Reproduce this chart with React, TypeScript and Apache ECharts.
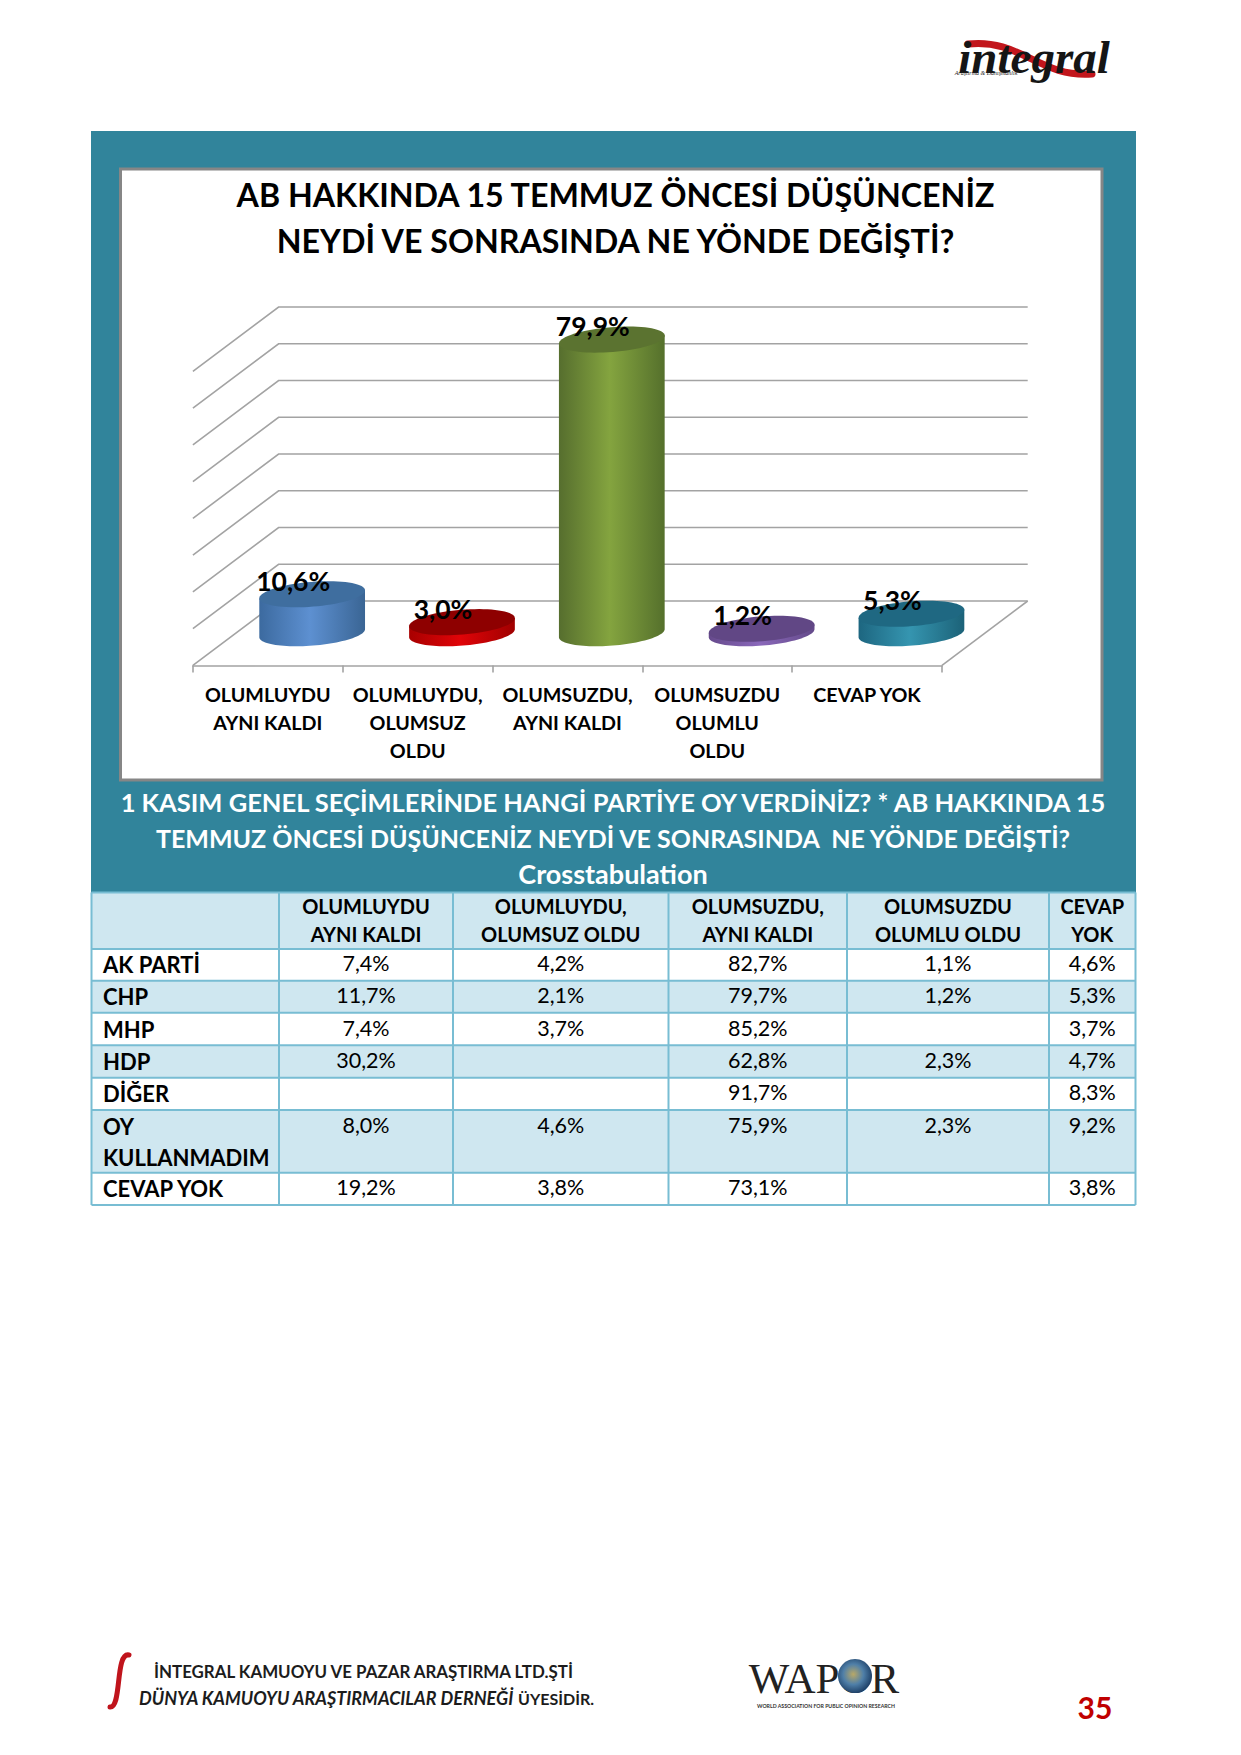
import React, { useEffect, useRef } from "react";
import * as echarts from "echarts";

// ---------- chart data ----------
const categories = [
  "OLUMLUYDU\nAYNI KALDI",
  "OLUMLUYDU,\nOLUMSUZ\nOLDU",
  "OLUMSUZDU,\nAYNI KALDI",
  "OLUMSUZDU\nOLUMLU\nOLDU",
  "CEVAP YOK",
];
const values = [10.6, 3.0, 79.9, 1.2, 5.3];
const gridTicks = [0, 10, 20, 30, 40, 50, 60, 70, 80];
const chartTitle = "AB HAKKINDA 15 TEMMUZ ÖNCESİ DÜŞÜNCENİZ\nNEYDİ VE SONRASINDA NE YÖNDE DEĞİŞTİ?";

// ---------- table data ----------
const tableTitle = [
  "1 KASIM GENEL SEÇİMLERİNDE HANGİ PARTİYE OY VERDİNİZ? * AB HAKKINDA 15",
  "TEMMUZ ÖNCESİ DÜŞÜNCENİZ NEYDİ VE SONRASINDA  NE YÖNDE DEĞİŞTİ?",
  "Crosstabulation",
];
const tableHeaders = [
  "",
  "OLUMLUYDU\nAYNI KALDI",
  "OLUMLUYDU,\nOLUMSUZ OLDU",
  "OLUMSUZDU,\nAYNI KALDI",
  "OLUMSUZDU\nOLUMLU OLDU",
  "CEVAP\nYOK",
];
const rowAkParti = ["AK PARTİ", "7,4%", "4,2%", "82,7%", "1,1%", "4,6%"];
const rowChp = ["CHP", "11,7%", "2,1%", "79,7%", "1,2%", "5,3%"];
const rowMhp = ["MHP", "7,4%", "3,7%", "85,2%", "", "3,7%"];
const rowHdp = ["HDP", "30,2%", "", "62,8%", "2,3%", "4,7%"];
const rowDiger = ["DİĞER", "", "", "91,7%", "", "8,3%"];
const rowOy = ["OY\nKULLANMADIM", "8,0%", "4,6%", "75,9%", "2,3%", "9,2%"];
const rowCevap = ["CEVAP YOK", "19,2%", "3,8%", "73,1%", "", "3,8%"];
const tableRows = [rowAkParti, rowChp, rowMhp, rowHdp, rowDiger, rowOy, rowCevap];

// ---------- layout & style (not data) ----------
const FONT = "Lato, Carlito, Calibri, sans-serif";
const DEPTH_X = 85.7;
const DEPTH_Y = 64.4;
const TILT = (-4.6 * Math.PI) / 180;
const GRID_COLOR = "#a3a3a3";
const TEAL = "#31849b";
const CELL_BLUE = "#cfe7f0";
const CELL_LINE = "#78bdd3";
const colX = [91.5, 279, 453, 668.5, 847, 1049, 1135.5];
const rowY = [892.5, 949, 980.7, 1012.7, 1045.3, 1077.7, 1110, 1172.7, 1205];

const barStyles = [
  { stops: ["#3c6a9f", "#5d90d1", "#3a6594"], top: "#3f6e9f" },
  { stops: ["#a80000", "#e00408", "#a00000"], top: "#8e0000" },
  { stops: ["#566e2e", "#84a43f", "#55702c"], top: "#5b7330" },
  { stops: ["#664a8c", "#8a68ba", "#644a8a"], top: "#614785" },
  { stops: ["#1d6680", "#3595b0", "#1c6278"], top: "#1f6882" },
];

function ellipsePoint(cx: number, cy: number, rx: number, ry: number, t: number) {
  const ct = Math.cos(t) * rx;
  const st = Math.sin(t) * ry;
  return [
    cx + ct * Math.cos(TILT) - st * Math.sin(TILT),
    cy + ct * Math.sin(TILT) + st * Math.cos(TILT),
  ];
}

function renderWall(params: any, api: any) {
  const g = params.coordSys;
  const y = api.coord([0, api.value(1)])[1];
  const x0 = g.x;
  const x1 = g.x + DEPTH_X;
  const x2 = g.x + g.width + DEPTH_X;
  const style = { stroke: GRID_COLOR, fill: "none", lineWidth: 1.6 };
  const children: any[] = [
    { type: "polyline", shape: { points: [[x0, y], [x1, y - DEPTH_Y], [x2, y - DEPTH_Y]] }, style },
  ];
  if (api.value(1) === 0) {
    children.push({
      type: "line",
      shape: { x1: x2, y1: y - DEPTH_Y, x2: g.x + g.width, y2: y },
      style,
    });
  }
  return { type: "group", children };
}

function renderCylinder(params: any, api: any) {
  const idx = api.value(0);
  const v = api.value(1);
  const base = api.coord([idx, 0]);
  const tip = api.coord([idx, v]);
  const bandW = api.size([1, 0])[0];
  const rx = bandW * 0.354;
  const ry = 12.4;
  const cx = base[0] + DEPTH_X / 2 + 1.5;
  const by = base[1] - DEPTH_Y / 2;
  const ty = tip[1] - DEPTH_Y / 2;
  const st = barStyles[params.dataIndex];
  const side: number[][] = [];
  for (let i = 0; i <= 48; i++) side.push(ellipsePoint(cx, by, rx, ry, (Math.PI * i) / 48));
  const sidePts = [ellipsePoint(cx, ty, rx, ry, 0), ...side, ellipsePoint(cx, ty, rx, ry, Math.PI)];
  const top: number[][] = [];
  for (let i = 0; i < 72; i++) top.push(ellipsePoint(cx, ty, rx, ry, (Math.PI * 2 * i) / 72));
  const label = v.toFixed(1).replace(".", ",") + "%";
  return {
    type: "group",
    children: [
      {
        type: "polygon",
        shape: { points: sidePts },
        style: {
          fill: new echarts.graphic.LinearGradient(0, 0, 1, 0, [
            { offset: 0, color: st.stops[0] },
            { offset: 0.48, color: st.stops[1] },
            { offset: 1, color: st.stops[2] },
          ]),
        },
      },
      { type: "polygon", shape: { points: top }, style: { fill: st.top } },
      {
        type: "text",
        x: cx - 19,
        y: ty - 13.5,
        z2: 10,
        style: {
          text: label,
          align: "center",
          verticalAlign: "middle",
          fill: "#000",
          fontFamily: FONT,
          fontWeight: 700,
          fontSize: 26.5,
        },
      },
    ],
  };
}

function text(t: string, x: number, y: number, size: number, extra: any = {}) {
  const { weight, color, align, family, style, lineHeight, ...rest } = extra;
  return {
    type: "text",
    x,
    y,
    z: 3,
    ...rest,
    style: {
      text: t,
      align: align ?? "center",
      verticalAlign: "middle",
      fill: color ?? "#000",
      fontFamily: family ?? FONT,
      fontWeight: weight ?? 400,
      fontStyle: style ?? "normal",
      fontSize: size,
      lineHeight,
    },
  };
}

function buildGraphics() {
  const out: any[] = [
    { type: "rect", z: -3, shape: { x: 91, y: 131, width: 1045, height: 762 }, style: { fill: TEAL } },
    {
      type: "rect",
      z: -2,
      shape: { x: 120.5, y: 169, width: 981.5, height: 611 },
      style: { fill: "#fff", stroke: "#868686", lineWidth: 3 },
    },
  ];
  // table title
  const titleY = [802, 838, 873];
  const titleSize = [25.5, 25, 27];
  tableTitle.forEach((t, i) => out.push(text(t, 613, titleY[i], titleSize[i], { weight: 700, color: "#fff" })));
  // table cells
  const nRows = rowY.length - 1;
  for (let r = 0; r < nRows; r++) {
    const blue = r % 2 === 0;
    out.push({
      type: "rect",
      z: -1,
      shape: { x: colX[0], y: rowY[r], width: colX[6] - colX[0], height: rowY[r + 1] - rowY[r] },
      style: { fill: blue ? CELL_BLUE : "#fff" },
    });
  }
  rowY.forEach((y) =>
    out.push({
      type: "line",
      z: 1,
      shape: { x1: colX[0], y1: y, x2: colX[6], y2: y },
      style: { stroke: CELL_LINE, lineWidth: 2 },
    })
  );
  colX.forEach((x) =>
    out.push({
      type: "line",
      z: 1,
      shape: { x1: x, y1: rowY[0], x2: x, y2: rowY[rowY.length - 1] },
      style: { stroke: CELL_LINE, lineWidth: 2 },
    })
  );
  tableHeaders.forEach((h, c) => {
    if (!h) return;
    const cx = (colX[c] + colX[c + 1]) / 2;
    h.split("\n").forEach((line, i) =>
      out.push(text(line, cx, 906 + i * 28, 20, { weight: 700 }))
    );
  });
  tableRows.forEach((row, r) => {
    const twoLine = row[0].includes("\n");
    const dataY = twoLine ? 1125 : (rowY[r + 1] + rowY[r + 2]) / 2 - 1.5;
    const labelY = twoLine ? 1126 : (rowY[r + 1] + rowY[r + 2]) / 2;
    row.forEach((cell, c) => {
      if (!cell) return;
      if (c === 0) {
        cell.split("\n").forEach((line, i) =>
          out.push(text(line, 103, labelY + i * 31, 22, { weight: 700, align: "left" }))
        );
      } else {
        out.push(text(cell, (colX[c] + colX[c + 1]) / 2, dataY, 21.5));
      }
    });
  });

  // integral logo
  out.push({
    type: "bezierCurve",
    shape: { x1: 968, y1: 44, cpx1: 1020, cpy1: 38, cpx2: 1040, cpy2: 78, x2: 1092, y2: 74 },
    style: { stroke: "#c2161c", lineWidth: 7, fill: "none", lineCap: "round" },
  });
  out.push(text("integral", 1034, 57, 47, { family: "'Liberation Serif', serif", style: "italic", weight: 700, color: "#151515" }));
  out.push(text("Araştırma & Danışmanlık", 986, 73, 6, { family: "'Liberation Serif', serif", style: "italic", color: "#222" }));

  // footer
  out.push({
    type: "bezierCurve",
    shape: { x1: 110, y1: 1707, cpx1: 122, cpy1: 1708, cpx2: 115, cpy2: 1652, x2: 129, y2: 1655 },
    style: { stroke: "#c0141c", lineWidth: 5, fill: "none", lineCap: "round" },
  });
  out.push(text("İNTEGRAL KAMUOYU VE PAZAR ARAŞTIRMA LTD.ŞTİ", 154, 1671, 16.9, { weight: 700, align: "left", color: "#1c1c1c" }));
  out.push(text("DÜNYA KAMUOYU ARAŞTIRMACILAR DERNEĞİ", 139, 1698, 18, { weight: 700, style: "italic", align: "left", color: "#1c1c1c" }));
  out.push(text("ÜYESİDİR.", 518, 1698, 16, { weight: 700, align: "left", color: "#1c1c1c" }));
  out.push(text("WAPOR", 824, 1678, 43, { family: "'Liberation Serif', serif", color: "#222" }));
  out.push({
    type: "circle",
    z: 4,
    shape: { cx: 855, cy: 1676, r: 17 },
    style: {
      fill: new echarts.graphic.RadialGradient(0.45, 0.45, 0.6, [
        { offset: 0, color: "#b9a867" },
        { offset: 0.5, color: "#4f7fa8" },
        { offset: 1, color: "#17375e" },
      ]),
    },
  });
  out.push(text("WORLD ASSOCIATION FOR PUBLIC OPINION RESEARCH", 826, 1706, 5.2, { color: "#333", weight: 700 }));
  out.push(text("35", 1095, 1707, 30, { weight: 700, color: "#c00000" }));
  return out;
}

export default function App() {
  const ref = useRef<HTMLDivElement | null>(null);
  useEffect(() => {
    const chart = echarts.init(ref.current!, undefined, { renderer: "svg" });
    chart.setOption({
      animation: false,
      backgroundColor: "#fff",
      title: {
        text: chartTitle,
        left: 610.5,
        top: 166.5,
        textAlign: "center",
        textStyle: { fontFamily: FONT, fontWeight: 700, fontSize: 32.2, lineHeight: 46, color: "#000" },
      },
      grid: { left: 192.9, width: 749.1, top: 371.4, height: 294 },
      xAxis: {
        type: "category",
        data: categories,
        axisLine: { lineStyle: { color: GRID_COLOR, width: 1.6 } },
        axisTick: { show: true, length: 7, lineStyle: { color: GRID_COLOR, width: 1.6 } },
        axisLabel: {
          interval: 0,
          margin: 15,
          fontFamily: FONT,
          fontWeight: 700,
          fontSize: 19.7,
          lineHeight: 28,
          color: "#000",
        },
      },
      yAxis: { type: "value", min: 0, max: 80, interval: 10, show: false },
      graphic: { elements: buildGraphics() },
      series: [
        {
          type: "custom",
          z: 1,
          clip: false,
          silent: true,
          renderItem: renderWall,
          encode: { x: 0, y: 1 },
          data: gridTicks.map((t) => [0, t]),
        },
        {
          type: "custom",
          z: 5,
          clip: false,
          renderItem: renderCylinder,
          encode: { x: 0, y: 1 },
          data: values.map((v, i) => [i, v]),
        },
      ],
    });
    return () => chart.dispose();
  }, []);
  return (
    <div
      ref={ref}
      style={{ position: "absolute", left: 0, top: 0, width: 1241, height: 1755 }}
    />
  );
}
